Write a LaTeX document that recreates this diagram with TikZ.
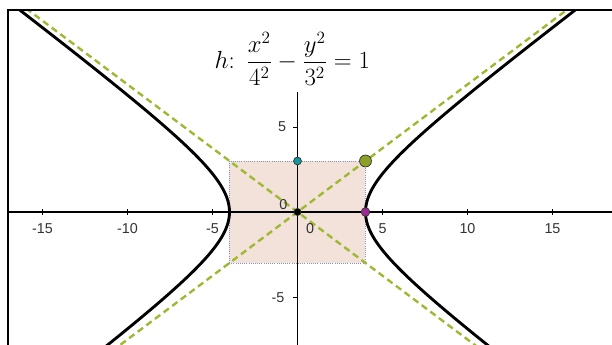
\documentclass[tikz,border=0pt]{standalone}
\usepackage{fontspec}
\setsansfont{Liberation Sans}
\usetikzlibrary{positioning}
\definecolor{asymgreen}{RGB}{160,185,50}
\definecolor{boxfill}{RGB}{242,226,218}
\definecolor{boxline}{RGB}{130,150,185}
\definecolor{ptcyan}{RGB}{20,150,160}
\definecolor{ptolive}{RGB}{140,160,40}
\definecolor{ptmagenta}{RGB}{160,40,150}

\begin{document}
\begin{tikzpicture}[
      x=0.5cm,y=0.5cm,
      frame/.style={draw, line width=1.8pt, line cap=rect},
      axis/.style={draw, line width=1.3pt},
      curve/.style={draw, line width=2.4pt},
      asym/.style={draw=asymgreen, line width=2pt, dash pattern=on 5.5pt off 3.5pt},
      pt/.style={circle, draw=black!80, line width=0.6pt, inner sep=0pt},
      ticklabel/.style={font=\sffamily\large, text=black!80, inner sep=1pt}
    ]
      \useasboundingbox (-17.5,-7.82) rectangle (18.5,12.47);
      \begin{scope}
        \clip (-17.04,-7.82) rectangle (18.5,11.86);
        \draw[fill=boxfill, draw=boxline, densely dotted, line width=0.8pt] (-4,-3) rectangle (4,3);
        \draw[asym] (-18,-13.5) -- (18.5,13.875);
        \draw[asym] (-18,13.5) -- (18.5,-13.875);
        \draw[axis] (-17.04,0) -- (18.5,0);
        \draw[axis, line width=0.8pt] (0,-7.82) -- (0,7.05);
        \foreach \t in {-15,-10,-5,5,10,15} \draw[axis, line width=0.6pt] (\t,-0.15) -- (\t,0.15);
        \foreach \t in {-5,5} \draw[axis, line width=0.6pt] (-0.25,\t) -- (0,\t);
        \draw[curve] plot[domain=-2.2:2.2, samples=90, smooth] ({4*cosh(\x)},{3*sinh(\x)});
        \draw[curve] plot[domain=-2.2:2.2, samples=90, smooth] ({-4*cosh(\x)},{3*sinh(\x)});
      \end{scope}
      \draw[frame] (-17.04,-7.82) -- (-17.04,11.86) -- (18.5,11.86);
      % tick labels
      \foreach \t in {-15,-10,-5,5,10,15} \node[ticklabel] (x\t) at (\t,-1.0) {\t};
      \node[ticklabel] (x0) at (0.74,-1.0) {0};
      \node[ticklabel] (y0) at (-0.83,0.45) {0};
      \node[ticklabel] (y5) at (-0.9,5) {5};
      \node[ticklabel] (ym5) at (-1.15,-5.05) {-5};
      % points
      \node[pt, fill=black, minimum size=6pt] (O) at (0,0) {};
      \node[pt, fill=ptcyan, minimum size=6.6pt] (B) at (0,3) {};
      \node[pt, fill=ptolive, minimum size=10pt] (P) at (4,3) {};
      \node[pt, fill=ptmagenta, minimum size=7.2pt] (A) at (4,0) {};
      % equation
      \node[font=\huge] (eq) at (-0.3,9.0) {$h\colon\ \displaystyle\frac{x^2}{4^2}-\frac{y^2}{3^2}=1$};
    \end{tikzpicture}
\end{document}
